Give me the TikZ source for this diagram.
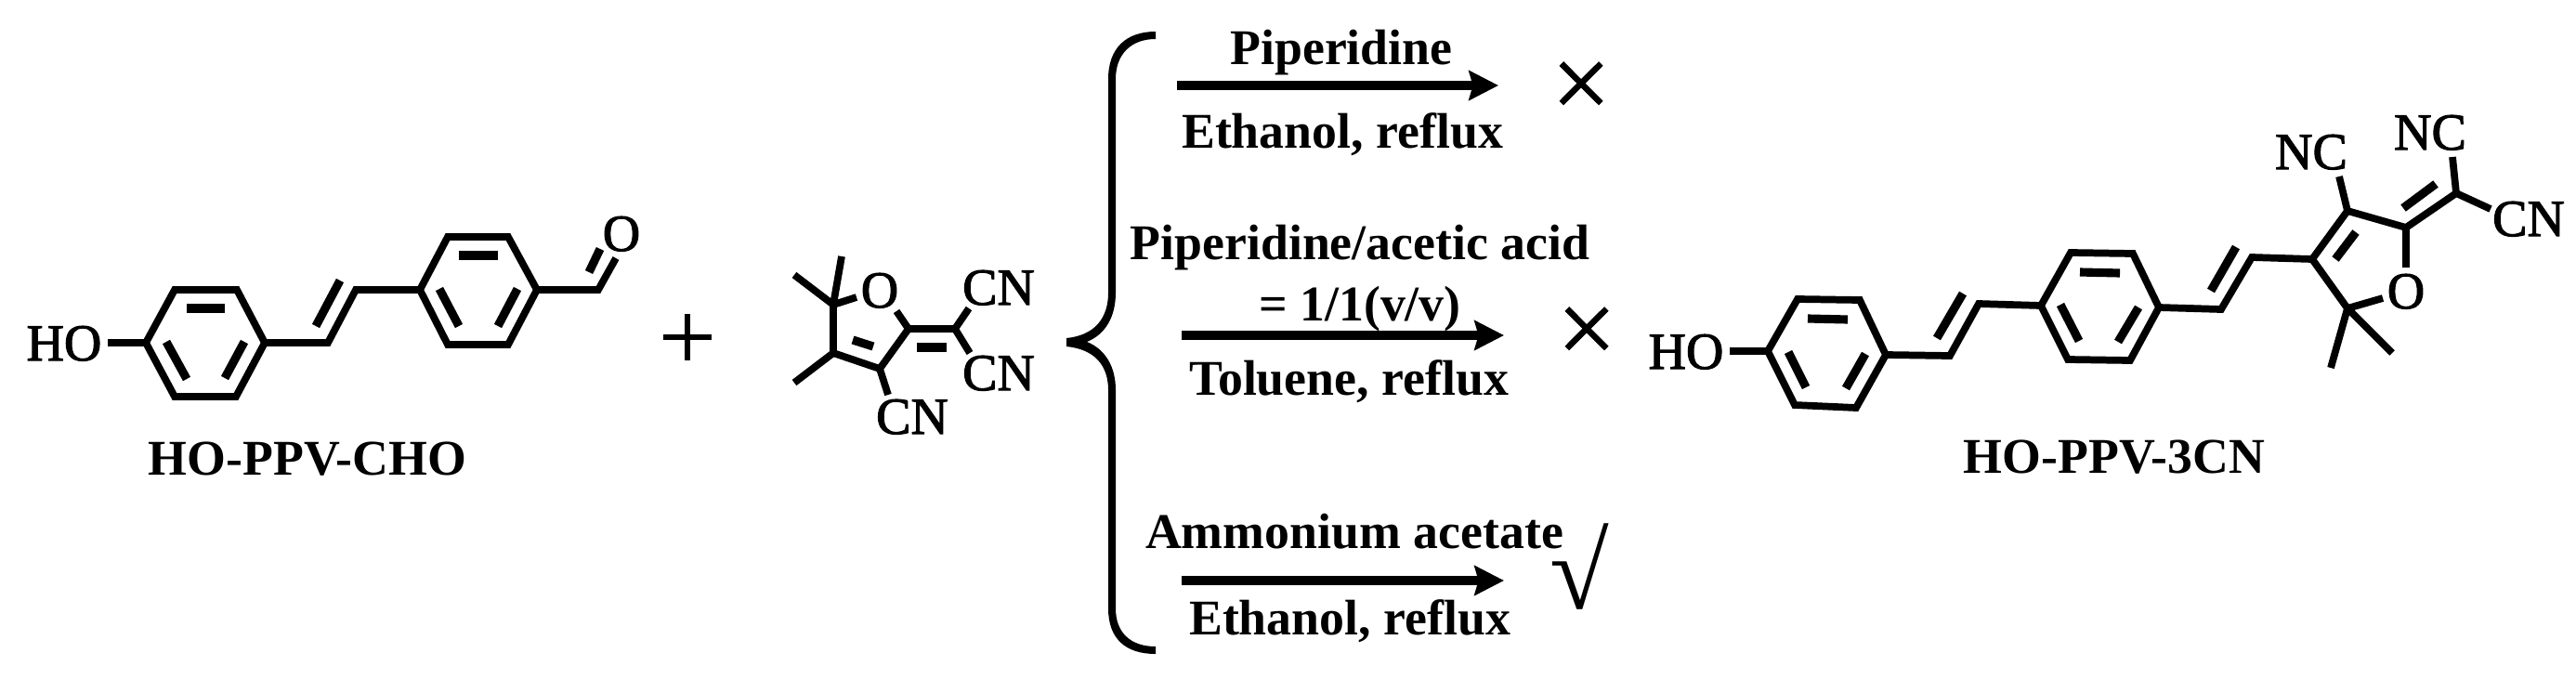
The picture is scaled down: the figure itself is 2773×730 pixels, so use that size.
\documentclass[tikz,border=0pt]{standalone}
\usepackage{fontspec}
\setmainfont{Liberation Serif}
\newfontfamily\atomfont[FakeBold=2]{Liberation Serif}
\newfontfamily\signfont[FakeBold=0.8]{Liberation Serif}
\usetikzlibrary{arrows.meta}
\tikzset{
	bond/.style={line width=2.2pt,line join=miter},
	inner bond/.style={line width=2.6pt},
	chem/.style={inner sep=0pt,anchor=base,font=\fontsize{15.3}{18}\selectfont\bfseries},
	atom/.style={inner sep=0pt,anchor=base,font=\fontsize{15.9}{18}\selectfont\atomfont},
	rxn/.style={line width=2.7pt,-{Stealth[length=9pt,width=9pt,inset=1.2pt]}},
	mark sign/.style={inner sep=0pt,anchor=center,font=\fontsize{32}{32}\selectfont\signfont}
}
\begin{document}
\begin{tikzpicture}[x=0.01cm,y=-0.01cm]
	\useasboundingbox (0,0) rectangle (2773,730);

	% aldehyde
	\draw [bond] (157,369) -- (188,312) -- (255,312) -- (285,369) -- (254,427) -- (188,427) -- cycle;
	\draw [inner bond] (201,332) -- (242,332);
	\draw [inner bond] (179,368) -- (201,408);
	\draw [inner bond] (263,368) -- (242,407);
	\draw [bond] (116,369) -- (157,369);
	\draw [bond] (285,369) -- (353,369) -- (383,312) -- (452,312);
	\draw [inner bond] (340,351) -- (366,302);
	\draw [bond] (452,312) -- (482,255) -- (547,255) -- (578,312) -- (547,371) -- (482,371) -- cycle;
	\draw [inner bond] (494,275) -- (536,275);
	\draw [inner bond] (473,311) -- (494,351);
	\draw [inner bond] (557,311) -- (536,351);
	\draw [bond] (578,312) -- (644,312) -- (663,278);
	\draw [inner bond] (634,293) -- (646,268);
	\node [atom] (hoA) at (69,388) {HO};
	\node [atom] (oA) at (669,270) {O};
	\node [chem] (nameA) at (331,511) {HO-PPV-CHO};

	% plus
	\draw [line width=1.8pt] (714,363) -- (766,363);
	\draw [line width=1.8pt] (740,338) -- (740,388);

	% furan acceptor
	\draw [bond] (922,320) -- (897,328) -- (897,380) -- (947,397) -- (978,354) -- (965,335);
	\draw [bond] (855,296) -- (897,328) -- (906,276);
	\draw [bond] (855,412) -- (897,380);
	\draw [bond] (947,397) -- (956,425);
	\draw [inner bond] (918,366) -- (940,373);
	\draw [bond] (978,354) -- (1028,354);
	\draw [inner bond] (987,374) -- (1019,374);
	\draw [bond] (1043,332) -- (1028,354) -- (1044,380);
	\node [atom] (oB) at (947,331) {O};
	\node [atom] (cnA) at (1075,328) {CN};
	\node [atom] (cnB) at (1075,420) {CN};
	\node [atom] (cnC) at (982,467) {CN};

	% brace
	\fill (1244,34) .. controls (1212,34) and (1193,52) .. (1193,85) -- (1193,315)
		.. controls (1193,343) and (1178,361) .. (1148,364) -- (1148,373)
		.. controls (1178,376) and (1193,393) .. (1193,420) -- (1193,655)
		.. controls (1193,688) and (1212,704) .. (1244,704) -- (1244,696)
		.. controls (1218,696) and (1201,682) .. (1201,655) -- (1201,420)
		.. controls (1201,395) and (1190,376) .. (1170,368)
		.. controls (1190,360) and (1201,341) .. (1201,315) -- (1201,85)
		.. controls (1201,58) and (1218,42) .. (1244,42) -- cycle;

	% conditions
	\coordinate (rxnAs) at (1267,92);
	\coordinate (rxnAe) at (1613,92);
	\coordinate (rxnBs) at (1272,361);
	\coordinate (rxnBe) at (1619,361);
	\coordinate (rxnCs) at (1272,625);
	\coordinate (rxnCe) at (1619,625);
	\draw [rxn] (rxnAs) -- (rxnAe);
	\draw [rxn] (rxnBs) -- (rxnBe);
	\draw [rxn] (rxnCs) -- (rxnCe);
	\node [chem] (topA) at (1444,69) {Piperidine};
	\node [chem] (botA) at (1445,159) {Ethanol, reflux};
	\node [chem] (topB) at (1464,279) {Piperidine/acetic acid};
	\node [chem] (midB) at (1464,345) {= 1/1(v/v)};
	\node [chem] (botB) at (1452,425) {Toluene, reflux};
	\node [chem] (topC) at (1458,590) {Ammonium acetate};
	\node [chem] (botC) at (1453,683) {Ethanol, reflux};
	\node [mark sign] (noA) at (1702,97) {×};
	\node [mark sign] (noB) at (1708,361) {×};
	\node [mark sign,font=\fontsize{33}{33}\selectfont] (yesC) at (1700,610) {√};

	% product
	\draw [bond] (1862,378) -- (1903,378);
	\draw [bond] (1903,378) -- (1935,322) -- (2002,323) -- (2030,382) -- (1998,439) -- (1932,436) -- cycle;
	\draw [inner bond] (1946,343) -- (1989,344);
	\draw [inner bond] (1925,379) -- (1944,417);
	\draw [inner bond] (2008,381) -- (1987,418);
	\draw [bond] (2030,382) -- (2099,383) -- (2130,327) -- (2197,329);
	\draw [inner bond] (2085,364) -- (2113,316);
	\draw [bond] (2197,329) -- (2229,272) -- (2296,273) -- (2324,331) -- (2293,388) -- (2226,387) -- cycle;
	\draw [inner bond] (2239,293) -- (2282,294);
	\draw [inner bond] (2218,328) -- (2238,367);
	\draw [inner bond] (2302,331) -- (2280,368);
	\draw [bond] (2324,331) -- (2391,333) -- (2424,277) -- (2489,279);
	\draw [inner bond] (2380,313) -- (2407,266);
	\draw [bond] (2565,321) -- (2527,332) -- (2489,279) -- (2527,227) -- (2590,245) -- (2590,288);
	\draw [inner bond] (2514,279) -- (2536,250);
	\draw [bond] (2509,396) -- (2527,332) -- (2575,380);
	\draw [bond] (2527,227) -- (2518,190);
	\draw [bond] (2590,245) -- (2644,208);
	\draw [inner bond] (2587,224) -- (2622,198);
	\draw [bond] (2640,169) -- (2644,208) -- (2681,225);
	\node [atom] (hoB) at (1815,397) {HO};
	\node [atom] (oC) at (2590,332) {O};
	\node [atom] (ncA) at (2488,182) {NC};
	\node [atom] (ncB) at (2616,161) {NC};
	\node [atom] (cnD) at (2722,254) {CN};
	\node [chem] (nameB) at (2276,509) {HO-PPV-3CN};
\end{tikzpicture}
\end{document}
